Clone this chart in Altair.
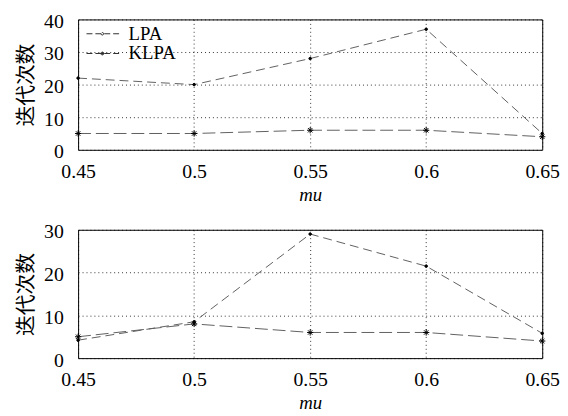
import altair as alt
import pandas as pd

mu = [0.45, 0.5, 0.55, 0.6, 0.65]
series_names = ["LPA", "KLPA"]
top_lpa = [22, 20, 28, 37, 5]
top_klpa = [5, 5, 6, 6, 4]
bot_lpa = [4.2, 8.5, 29, 21.5, 5.8]
bot_klpa = [5, 8, 6, 6, 4]
x_ticks = [0.45, 0.5, 0.55, 0.6, 0.65]
top_y_ticks = [0, 10, 20, 30, 40]
bot_y_ticks = [0, 10, 20, 30]

def frame(lpa, klpa):
    rows = []
    for m, v in zip(mu, lpa):
        rows.append({"mu": m, "v": v, "series": "LPA", "marker": "LPA"})
    for m, v in zip(mu, klpa):
        rows.append({"mu": m, "v": v, "series": "KLPA", "marker": "KLPA"})
    return pd.DataFrame(rows)

SERIF = "Liberation Serif"
DOT = "M-0.5,0a0.5,0.5 0 1,0 1,0a0.5,0.5 0 1,0 -1,0Z"
STAR = "M-1,0L1,0M0,-1L0,1M-0.7,-0.7L0.7,0.7M-0.7,0.7L0.7,-0.7"
LEG_DOT = ("M-1,0L4.8,0M1.45,0a0.22,0.22 0 1,0 0.44,0"
           "a0.22,0.22 0 1,0 -0.44,0Z")
LEG_STAR = ("M-1,0L4.8,0M1.35,0L2.0,0M1.67,-0.33L1.67,0.33"
            "M1.44,-0.23L1.9,0.23M1.44,0.23L1.9,-0.23")

def panel(df, ymax, yticks, height, legend):
    x = alt.X("mu:Q", scale=alt.Scale(domain=[0.45, 0.65], nice=False),
              axis=alt.Axis(values=x_ticks, format="~g", title="mu",
                            labelFont=SERIF, labelFontSize=20, labelFlush=False,
                            labelColor="black",
                            titleFontStyle="italic", titleFont=SERIF,
                            titleFontWeight="normal", titleFontSize=19,
                            titlePadding=4, labelPadding=12))
    y = alt.Y("v:Q", scale=alt.Scale(domain=[0, ymax], nice=False),
              axis=alt.Axis(values=yticks, title="迭代次数",
                            labelFont=SERIF, labelFontSize=20, labelFlush=False,
                            labelColor="black", labelOffset=2,
                            titleFont="Noto Sans CJK SC", titleFontSize=21,
                            titleFontWeight="normal", titlePadding=7,
                            labelPadding=15))
    line = alt.Chart(df).mark_line(color="#606060", strokeWidth=1).encode(
        x=x, y=y,
        strokeDash=alt.StrokeDash("series:N",
                                  scale=alt.Scale(domain=series_names,
                                                  range=[[9, 5], [13, 5]]),
                                  legend=None),
    )
    pts = alt.Chart(df).mark_point(color="black", filled=False, strokeWidth=1, opacity=1).encode(
        x=x, y=y,
        shape=alt.Shape("marker:N", scale=alt.Scale(domain=series_names,
                                                    range=[DOT, STAR]),
                        legend=None),
        size=alt.Size("marker:N", scale=alt.Scale(domain=series_names,
                                                  range=[28, 40]),
                      legend=None),
        fill=alt.Fill("marker:N", scale=alt.Scale(domain=series_names,
                                                  range=["black", "transparent"]),
                      legend=None),
    )
    layers = [line, pts]
    if legend:
        leg = alt.Legend(title=None, orient="top-left", offset=5, padding=0,
                         symbolSize=144, symbolStrokeWidth=1, symbolDash=[6, 3],
                         labelFont=SERIF, labelFontSize=19, labelColor="black",
                         rowPadding=0, labelOffset=27)
        legl = alt.Chart(df).transform_filter("datum.v < -999").mark_point(
            filled=False, color="#303030", strokeWidth=1, opacity=1
        ).encode(
            x=x, y=y,
            shape=alt.Shape("series:N", scale=alt.Scale(domain=series_names,
                                                        range=[LEG_DOT, LEG_STAR]),
                            legend=leg),
        )
        layers.append(legl)
    return alt.layer(*layers).resolve_scale(shape="independent").properties(
        width=470, height=height)

top = panel(frame(top_lpa, top_klpa), 40, top_y_ticks, 132, True)
bot = panel(frame(bot_lpa, bot_klpa), 30, bot_y_ticks, 130, False)

chart = alt.vconcat(top, bot, spacing=16).resolve_scale(
    strokeDash="independent", shape="independent", size="independent", fill="independent"
).properties(padding={"left": 7, "top": 0, "right": 0, "bottom": 0}).configure_view(
    stroke="black", strokeWidth=1
).configure_axis(
    labelFont=SERIF, labelFontSize=20, labelColor="black", titleColor="black",
    grid=True, gridColor="black", gridDash=[1, 3], gridOpacity=0.8,
    ticks=False, domain=False
)

chart.save("out.html", embed_options={"renderer": "svg", "actions": False})
